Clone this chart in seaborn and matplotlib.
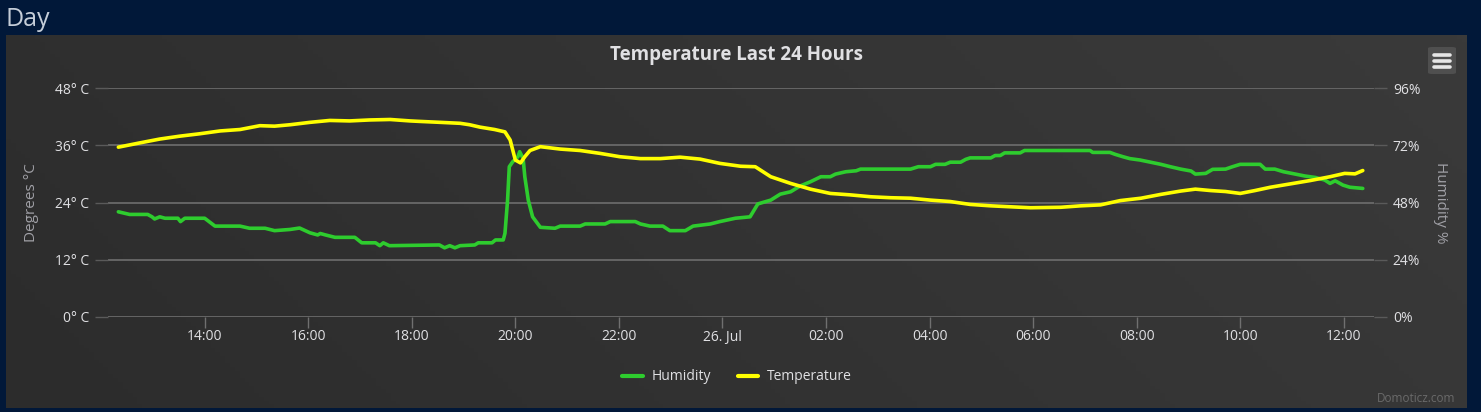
import numpy as np
import pandas as pd
import matplotlib
matplotlib.use("Agg")
import matplotlib.pyplot as plt
from matplotlib.colors import LinearSegmentedColormap
from matplotlib.patches import FancyBboxPatch
from matplotlib.lines import Line2D
import seaborn as sns

# readings, minutes after 25 Jul 12:20
start = pd.Timestamp("2016-07-25 12:20")

temp_minutes = [0, 25, 48, 71, 94, 118, 141, 164, 181, 199, 222, 245, 268, 291, 315,
                338, 349, 373, 396, 407, 419, 436, 448, 454, 460, 466, 471, 477, 489, 512,
                535, 558, 581, 605, 628, 651, 674, 697, 721, 738, 756, 779, 802, 825, 848,
                872, 895, 918, 941, 964, 987, 1011, 1034, 1057, 1092, 1115, 1138, 1161, 1185, 1208,
                1231, 1248, 1266, 1283, 1300, 1317, 1335, 1358, 1381, 1404, 1421, 1433, 1442]
temp_values = [35.6, 36.5, 37.3, 37.9, 38.4, 39.0, 39.3, 40.1, 40.0, 40.3, 40.8, 41.2, 41.1, 41.3, 41.4,
               41.1, 41.0, 40.8, 40.6, 40.3, 39.8, 39.3, 38.8, 37.1, 32.9, 32.3, 33.6, 34.9, 35.7, 35.2,
               34.9, 34.3, 33.6, 33.2, 33.2, 33.5, 33.1, 32.2, 31.6, 31.5, 29.4, 28.0, 26.8, 25.9, 25.6,
               25.2, 25.0, 24.9, 24.5, 24.2, 23.6, 23.3, 23.1, 22.9, 23.0, 23.3, 23.5, 24.4, 24.9, 25.7,
               26.4, 26.8, 26.5, 26.3, 25.9, 26.5, 27.2, 27.9, 28.6, 29.4, 30.1, 30.0, 30.7]

hum_minutes = [0, 13, 34, 39, 42, 48, 54, 69, 72, 77, 100, 112, 141, 152, 170,
               181, 199, 210, 222, 231, 234, 240, 251, 274, 282, 298, 303, 307, 314, 372,
               378, 384, 390, 396, 413, 417, 433, 437, 446, 448, 451, 453, 457, 463, 465,
               469, 471, 475, 480, 489, 506, 512, 535, 541, 564, 570, 599, 605, 616, 631,
               639, 657, 666, 686, 697, 715, 732, 741, 756, 767, 779, 790, 802, 814, 825,
               831, 843, 855, 860, 918, 927, 941, 947, 958, 964, 976, 982, 987, 1011, 1016,
               1022, 1027, 1045, 1050, 1126, 1129, 1149, 1155, 1164, 1172, 1184, 1196, 1208, 1219, 1231,
               1243, 1248, 1260, 1268, 1283, 1291, 1300, 1323, 1329, 1340, 1350, 1364, 1375, 1387, 1398,
               1404, 1410, 1419, 1427, 1442]
hum_values = [44.1, 43.0, 43.0, 42.0, 41.1, 42.0, 41.4, 41.4, 40.0, 41.4, 41.4, 38.1, 38.1, 37.2, 37.2,
              36.2, 36.7, 37.3, 35.3, 34.4, 35.0, 34.4, 33.4, 33.4, 31.1, 31.1, 29.9, 31.1, 29.9, 30.2,
              29.0, 29.9, 29.0, 29.9, 30.2, 31.1, 31.1, 32.3, 32.3, 35.1, 49.0, 63.0, 65.1, 67.2, 69.3,
              66.5, 58.8, 49.0, 42.0, 37.6, 37.2, 38.1, 38.1, 39.0, 39.0, 40.0, 40.0, 39.0, 38.1, 38.1,
              36.2, 36.2, 38.1, 39.0, 40.0, 41.4, 42.0, 47.4, 49.0, 51.5, 52.5, 54.9, 56.7, 58.8, 58.8,
              59.9, 60.9, 61.3, 62.0, 62.0, 63.0, 63.0, 64.0, 64.0, 64.9, 64.9, 66.1, 66.7, 66.7, 67.7,
              67.7, 68.8, 68.8, 69.8, 69.8, 69.0, 69.0, 68.2, 67.2, 66.4, 65.8, 64.9, 64.0, 63.0, 62.0,
              61.2, 59.9, 60.2, 61.9, 62.0, 63.0, 64.0, 64.0, 62.0, 62.0, 60.9, 59.9, 59.1, 58.5, 57.4,
              56.0, 57.1, 55.3, 54.4, 53.9]

x_ticks = ["2016-07-25 14:00", "2016-07-25 16:00", "2016-07-25 18:00", "2016-07-25 20:00",
           "2016-07-25 22:00", "2016-07-26 00:00", "2016-07-26 02:00", "2016-07-26 04:00",
           "2016-07-26 06:00", "2016-07-26 08:00", "2016-07-26 10:00", "2016-07-26 12:00"]
x_labels = ["14:00", "16:00", "18:00", "20:00", "22:00", "26. Jul",
            "02:00", "04:00", "06:00", "08:00", "10:00", "12:00"]
temp_ticks = [0, 12, 24, 36, 48]
hum_ticks = [0, 24, 48, 72, 96]

temp_df = pd.DataFrame({"time": start + pd.to_timedelta(temp_minutes, unit="m"),
                        "temp": temp_values})
hum_df = pd.DataFrame({"time": start + pd.to_timedelta(hum_minutes, unit="m"),
                       "hum": hum_values})

sns.set_theme(style="dark")
plt.rcParams['font.family'] = ['Open Sans', 'DejaVu Sans']

W, H = 1481, 412
fig = plt.figure(figsize=(W / 100, H / 100), dpi=100)
fig.patch.set_facecolor('#011839')


def fx(px):
    return px / W


def fy(py):
    return 1 - py / H


# chart panel with a soft diagonal gradient
bg = fig.add_axes([fx(6), fy(408), fx(1467 - 6), (408 - 35) / H])
gx, gy = np.meshgrid(np.linspace(0, 1, 300), np.linspace(0, 1, 100))
grad = 0.8 * gx + 0.2 * gy
bg.imshow(grad, aspect='auto', origin='lower',
          cmap=LinearSegmentedColormap.from_list('panel', ['#2c2c2c', '#3a3a3a']))
bg.axis('off')

# plot area
ax2 = fig.add_axes([fx(108), fy(317), fx(1374 - 108), (317 - 88) / H])
ax = ax2.twinx()
ax2.set_facecolor('none')
ax.set_facecolor('none')

sns.lineplot(data=hum_df, x='time', y='hum', ax=ax2, color='#2ecc2e', lw=2.6)
sns.lineplot(data=temp_df, x='time', y='temp', ax=ax, color='#ffff00', lw=2.6)

# temperature on left, humidity on right
ax.yaxis.set_label_position('left')
ax.yaxis.tick_left()
ax2.yaxis.set_label_position('right')
ax2.yaxis.tick_right()

ax.set_ylim(0, 48)
ax2.set_ylim(0, 96)
ax.set_yticks(temp_ticks, [f"{v}° C" for v in temp_ticks])
ax2.set_yticks(hum_ticks, [f"{v}%" for v in hum_ticks])

x0 = start - pd.Timedelta(minutes=12)
x1 = start + pd.Timedelta(minutes=1455)
ax2.set_xlim(x0, x1)
ax2.set_xticks(pd.to_datetime(x_ticks), x_labels)

ax2.grid(axis='y', color='#6e6e6e', lw=1.2)
ax2.grid(axis='x', visible=False)
ax.grid(False)
for a in (ax, ax2):
    for s in a.spines.values():
        s.set_visible(False)

lab_col = '#e0e0e3'
ax.tick_params(axis='y', length=9.5, width=1, color='#5a5a5a', labelcolor=lab_col,
               labelsize=10, pad=4)
ax2.tick_params(axis='y', length=9.5, width=1, color='#5a5a5a', labelcolor=lab_col,
                labelsize=10, pad=4)
ax2.tick_params(axis='x', length=8, width=1, color='#707070', labelcolor=lab_col,
                labelsize=10, pad=1, direction='out', bottom=True, labelbottom=True)
ax.tick_params(axis='x', bottom=False, top=False, labelbottom=False, labeltop=False)

ax.set_xlabel('')
ax2.set_xlabel('')
ax.set_ylabel('Degrees °C', color='#a0a0a6', fontsize=11)
ax2.set_ylabel('Humidity %', color='#a0a0a6', fontsize=11, rotation=270)
ax.yaxis.set_label_coords((39 - 108) / 1266, 0.5)
ax2.yaxis.set_label_coords((1448 - 108) / 1266, 0.5)

# temperature drawn above humidity
ax.set_zorder(ax2.get_zorder() + 1)

fig.text(fx(737), fy(55), 'Temperature Last 24 Hours', ha='center', va='center',
         fontsize=13.5, fontweight='bold', color=lab_col)
fig.text(fx(6), fy(19), 'Day', ha='left', va='center', fontsize=18, color='#c5cdd8')
fig.text(fx(1455), fy(399), 'Domoticz.com', ha='right', va='center', fontsize=8.5,
         color='#6a6a6a')

handles = [Line2D([], [], color='#2ecc2e', lw=3, label='Humidity'),
           Line2D([], [], color='#ffff00', lw=3, label='Temperature')]
fig.legend(handles=handles, loc='center', bbox_to_anchor=(fx(737), fy(377)), ncol=2,
           frameon=False, labelcolor=lab_col, fontsize=10, handlelength=1.5,
           handletextpad=0.6, columnspacing=1.9)

# export menu button
fig.patches.append(FancyBboxPatch((fx(1428), fy(74)), fx(28), (74 - 47) / H,
                                  boxstyle='round,pad=0,rounding_size=0.003',
                                  transform=fig.transFigure, facecolor='#4f4f4f',
                                  edgecolor='none'))
for py in (55, 61, 67):
    fig.lines.append(Line2D([fx(1434), fx(1450)], [fy(py), fy(py)], transform=fig.transFigure,
                            color='#e6e6e6', lw=2.6, solid_capstyle='round'))

fig.savefig('out.png', dpi=100, facecolor=fig.get_facecolor())
